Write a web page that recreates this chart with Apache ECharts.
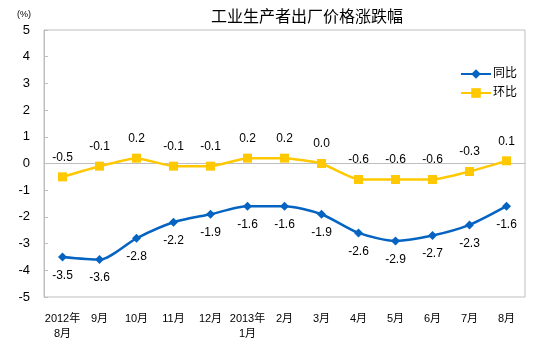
<!DOCTYPE html>
<html><head><meta charset="utf-8">
<script src="https://cdn.jsdelivr.net/npm/echarts@6/dist/echarts.min.js"></script>
<style>html,body{margin:0;padding:0;background:#fff}#c{width:554px;height:363px}</style>
</head><body><div id="c"></div>
<script>
const categories = ['2012年\n8月','9月','10月','11月','12月','2013年\n1月','2月','3月','4月','5月','6月','7月','8月'];
const yoy = [-3.5,-3.6,-2.8,-2.2,-1.9,-1.6,-1.6,-1.9,-2.6,-2.9,-2.7,-2.3,-1.6];
const mom = [-0.5,-0.1,0.2,-0.1,-0.1,0.2,0.2,0.0,-0.6,-0.6,-0.6,-0.3,0.1];
const seriesNames = ['同比','环比'];
const yTicks = [-5,-4,-3,-2,-1,0,1,2,3,4,5];

const chart = echarts.init(document.getElementById('c'));
const font = 'Arial, "Liberation Sans", "Noto Sans CJK SC", sans-serif';
chart.setOption({
  animation:false,
  textStyle:{fontFamily:font},
  title:{text:'工业生产者出厂价格涨跌幅',left:302,top:5,textAlign:'center',
    textStyle:{fontSize:16,fontWeight:'normal',color:'#000',fontFamily:font}},
  graphic:[{type:'text',left:17,top:10,style:{text:'(%)',fontSize:9,fill:'#000',fontFamily:font}}],
  legend:{orient:'vertical',left:455,top:63,itemGap:7,itemWidth:30,itemHeight:12,
    textStyle:{fontSize:12,color:'#000',padding:[0,0,0,-3]},
    data:[seriesNames[0],seriesNames[1]]},
  grid:{left:44,right:29,top:30,bottom:66,show:true,borderColor:'#BFBFBF',borderWidth:1},
  xAxis:{type:'category',data:categories,boundaryGap:true,
    axisLine:{lineStyle:{color:'#BFBFBF'}},
    axisTick:{inside:true,length:4,lineStyle:{color:'#BFBFBF'}},
    axisLabel:{color:'#000',fontSize:11,margin:14,interval:0,lineHeight:15}},
  yAxis:{type:'value',min:yTicks[0],max:yTicks[yTicks.length-1],interval:1,
    axisLine:{show:true,lineStyle:{color:'#BFBFBF'}},
    axisTick:{show:true,inside:true,length:4,lineStyle:{color:'#BFBFBF'}},
    splitLine:{show:false},
    axisLabel:{color:'#000',fontSize:13,margin:14}},
  series:[
    {name:seriesNames[0],type:'line',data:yoy,smooth:0.25,symbol:'diamond',symbolSize:9,
     itemStyle:{color:'#0563C1'},lineStyle:{color:'#0563C1',width:2.5},
     label:{show:true,position:'bottom',distance:8,fontSize:12,color:'#000',formatter:p=>p.value.toFixed(1)}},
    {name:seriesNames[1],type:'line',data:mom,smooth:0.15,symbol:'rect',symbolSize:9,
     itemStyle:{color:'#FFC800'},lineStyle:{color:'#FFC800',width:2.5},
     label:{show:true,position:'top',distance:9,fontSize:12,color:'#000',formatter:p=>p.value.toFixed(1)}}
  ]
});
</script></body></html>
